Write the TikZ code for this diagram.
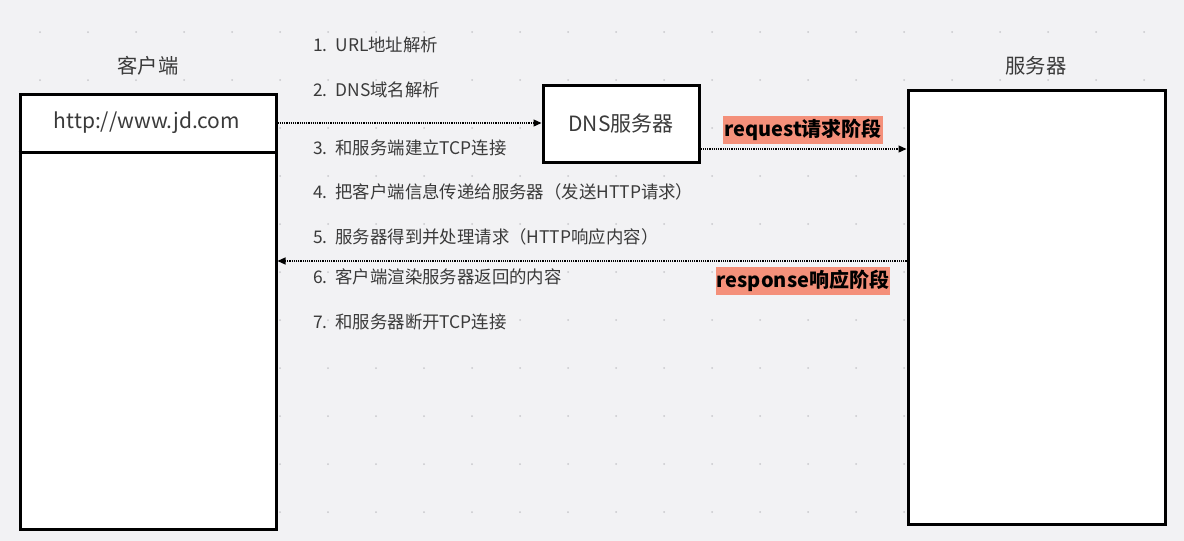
\documentclass[tikz,border=0pt]{standalone}
\usepackage{fontspec}
\setmainfont{Noto Sans CJK SC}
\usetikzlibrary{arrows.meta}
\definecolor{bg}{HTML}{F2F2F4}
\definecolor{dotc}{HTML}{C8C8CC}
\definecolor{txt}{HTML}{3A3A3A}
\definecolor{salmon}{HTML}{F4907A}
\tikzset{
  box/.style={draw=black, line width=3pt, fill=white, inner sep=0pt},
  title/.style={text=txt, font=\fontsize{20.3}{24}\selectfont, inner sep=0pt},
  item/.style={text=txt, font=\fontsize{17.4}{20}\selectfont, anchor=west, inner sep=0pt},
  phase/.style={fill=salmon, text=black, font=\bfseries\fontsize{20}{23}\selectfont, inner xsep=1pt, inner ysep=3pt},
  flow/.style={densely dotted, line width=1.2pt, -{Triangle[length=8pt,width=7pt]}},
}
\begin{document}
\begin{tikzpicture}[x=1pt,y=-1pt]
\useasboundingbox (0,0) rectangle (1184,541);
\fill[bg] (0,0) rectangle (1184,541);
\foreach \i in {0,...,23} \foreach \j in {0,...,10}
  \fill[dotc] (40+48*\i,32+48*\j) circle (1pt);

\node[title] (tclient) at (148,66) {客户端};
\node[title] (tserver) at (1036,66) {服务器};

\node[box, minimum width=256pt, minimum height=435pt] (client) at (148,311.5) {};
\node[box, draw=none, fill=none, minimum width=256pt, minimum height=58pt, text=txt, font=\fontsize{21}{24}\selectfont] (url) at (147,123) {http://www.jd.com};
\draw[line width=3pt] (client.west |- 0,152) -- (client.east |- 0,152);

\node[box, minimum width=156pt, minimum height=77pt, text=txt, font=\fontsize{21}{24}\selectfont] (dns) at (621,123.5) {DNS服务器};
\node[box, minimum width=257pt, minimum height=434pt] (server) at (1036.5,307) {};

\node[item] (s1) at (313,45) {1.\ \ URL地址解析};
\node[item] (s2) at (313,90) {2.\ \ DNS域名解析};
\node[item] (s3) at (313,148) {3.\ \ 和服务端建立TCP连接};
\node[item] (s4) at (313,192) {4.\ \ 把客户端信息传递给服务器（发送HTTP请求）};
\node[item] (s5) at (313,237) {5.\ \ 服务器得到并处理请求（HTTP响应内容）};
\node[item] (s6) at (313,277) {6.\ \ 客户端渲染服务器返回的内容};
\node[item] (s7) at (313,322) {7.\ \ 和服务器断开TCP连接};

\node[phase] (req) at (803,130) {request请求阶段};
\node[phase] (resp) at (803,281) {response响应阶段};

\coordinate (a1) at (client.east |- 0,123);
\coordinate (b1) at (dns.west |- 0,123);
\draw[flow] (a1) -- (b1);
\coordinate (a2) at (dns.east |- 0,149);
\coordinate (b2) at (server.west |- 0,149);
\draw[flow] (a2) -- (b2);
\coordinate (a3) at (server.west |- 0,261);
\coordinate (b3) at (client.east |- 0,261);
\draw[flow] (a3) -- (b3);
\end{tikzpicture}
\end{document}
